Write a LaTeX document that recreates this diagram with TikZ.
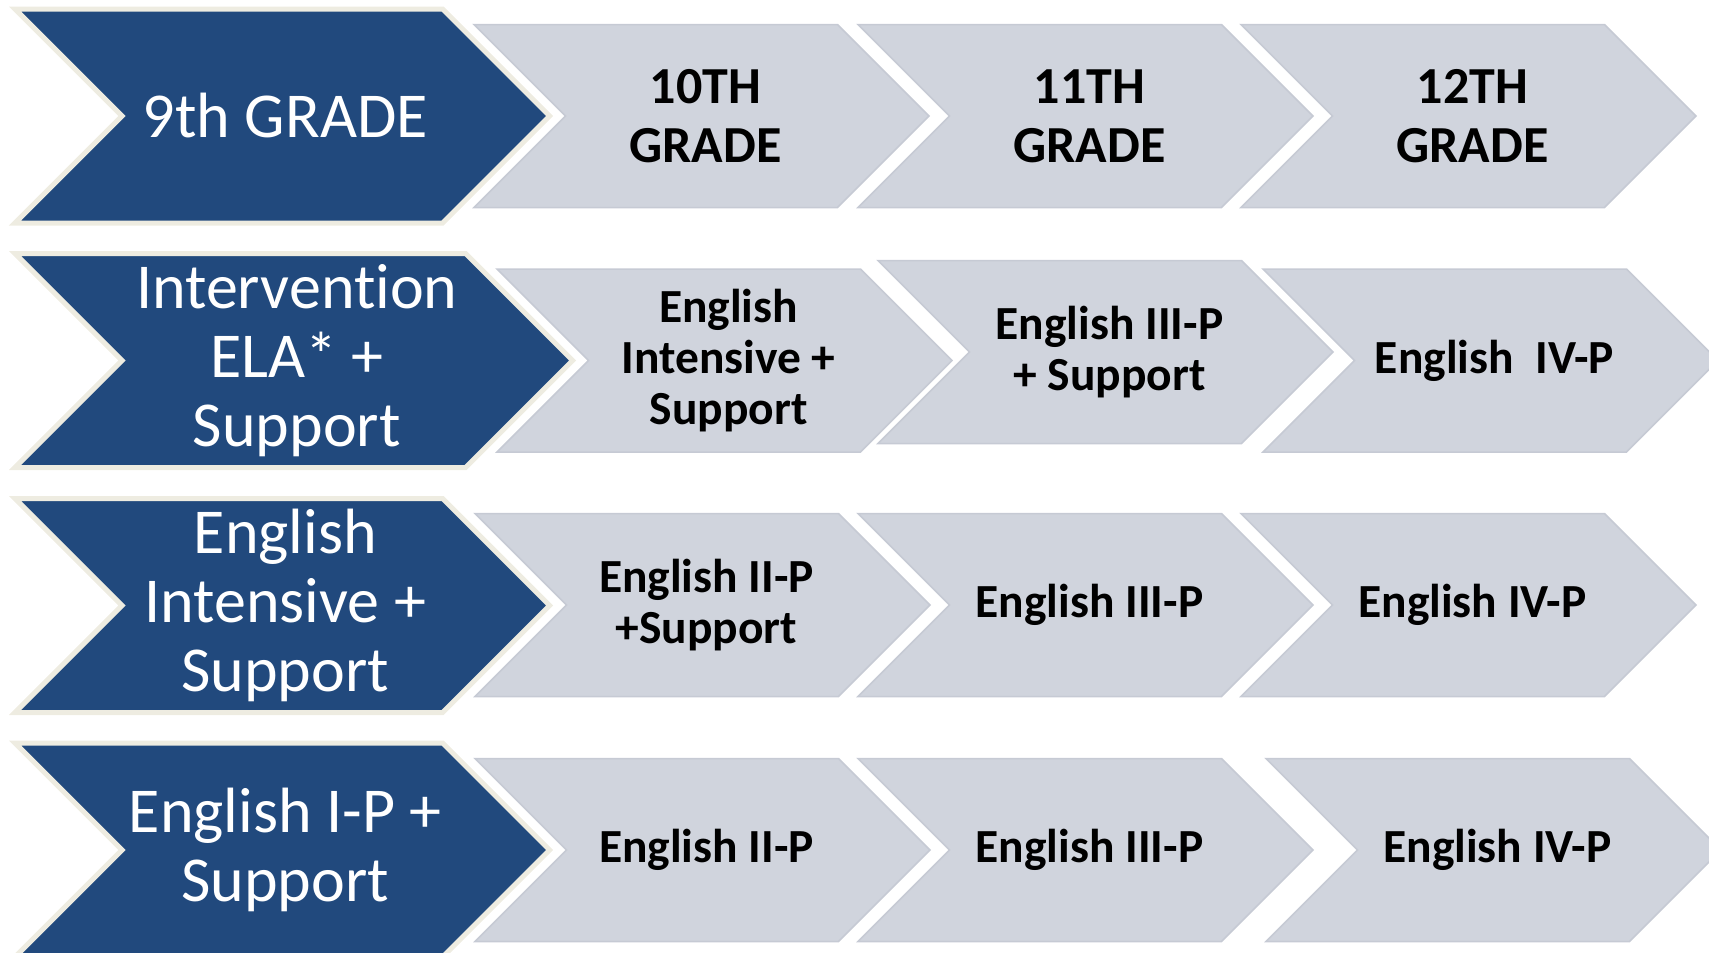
\documentclass[tikz,border=0pt]{standalone}
\usepackage{fontspec}
\setmainfont{Carlito}[Ligatures={NoCommon}]
\usetikzlibrary{calc}
\definecolor{gradeblue}{RGB}{33,73,125}
\definecolor{gradegray}{RGB}{208,212,221}
\definecolor{grayedge}{RGB}{198,202,212}
\definecolor{cream}{RGB}{238,236,225}
\tikzset{
  bluebox/.style={fill=gradeblue,draw=cream,line width=2.5pt,line join=miter},
  graybox/.style={fill=gradegray,draw=grayedge,line width=0.75pt,line join=miter},
  bluetext/.style={text=white,align=center,xshift=1.5pt,font=\fontsize{32}{34.5}\selectfont},
  gradetext/.style={text=black,align=center,xshift=2pt,font=\bfseries\fontsize{26}{29.5}\selectfont},
  coursetext/.style={text=black,align=center,xshift=2pt,font=\bfseries\fontsize{23.75}{25.5}\selectfont}
}
% style, left x, centre y, half height, width
\newcommand{\gradechevron}[5]{%
  \draw[#1] (#2,#3-#4) -- ++(#5-#4,0) -- ++(#4,#4) -- ++(-#4,#4)
    -- ++(-#5+#4,0) -- ++(#4,-#4) -- cycle;
}

\begin{document}
\begin{tikzpicture}[x=0.5pt,y=-0.5pt]
  \useasboundingbox (0,0) rectangle (1709,953);

  \gradechevron{bluebox}{15}{116}{107}{534.6}
  \gradechevron{graybox}{474}{116}{91.5}{455}
  \gradechevron{graybox}{858}{116}{91.5}{455}
  \gradechevron{graybox}{1241}{116}{91.5}{455}
  \node[bluetext] (hdr9) at (282.3,116) {9th GRADE};
  \node[gradetext] (hdr10) at (701.5,116) {10TH\\GRADE};
  \node[gradetext] (hdr11) at (1085.5,116) {11TH\\GRADE};
  \node[gradetext] (hdr12) at (1468.5,116) {12TH\\GRADE};

  \gradechevron{bluebox}{15}{360.5}{107}{557.6}
  \gradechevron{graybox}{497}{360.5}{91.5}{455}
  \gradechevron{graybox}{878}{352}{91.5}{455}
  \gradechevron{graybox}{1263}{360.5}{91.5}{455}
  \node[bluetext] (intv9) at (293.8,360.5) {Intervention\\ELA* +\\Support};
  \node[coursetext] (intv10) at (724.5,360.5) {English\\Intensive +\\Support};
  \node[coursetext] (intv11) at (1105.5,352) {English III-P\\+ Support};
  \node[coursetext] (intv12) at (1490.5,360.5) {English\ \ IV-P};

  \gradechevron{bluebox}{15}{605.5}{107}{534.6}
  \gradechevron{graybox}{475}{605}{91.5}{455}
  \gradechevron{graybox}{858}{605}{91.5}{455}
  \gradechevron{graybox}{1241}{605}{91.5}{455}
  \node[bluetext] (intns9) at (282.3,605.5) {English\\Intensive +\\Support};
  \node[coursetext] (intns10) at (702.5,605) {English II-P\\+Support};
  \node[coursetext] (intns11) at (1085.5,605) {English III-P};
  \node[coursetext] (intns12) at (1468.5,605) {English IV-P};

  \gradechevron{bluebox}{15}{850}{107}{534.6}
  \gradechevron{graybox}{475}{850}{91.5}{455}
  \gradechevron{graybox}{858}{850}{91.5}{455}
  \gradechevron{graybox}{1266}{850}{91.5}{455}
  \node[bluetext] (eng9) at (282.3,850) {English I-P +\\Support};
  \node[coursetext] (eng10) at (702.5,850) {English II-P};
  \node[coursetext] (eng11) at (1085.5,850) {English III-P};
  \node[coursetext] (eng12) at (1493.5,850) {English IV-P};
\end{tikzpicture}
\end{document}
